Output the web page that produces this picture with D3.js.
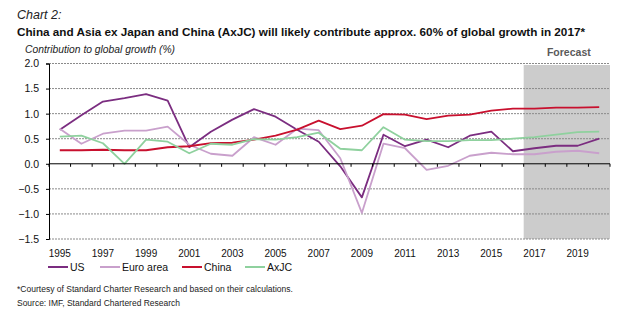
<!DOCTYPE html>
<html><head><meta charset="utf-8">
<script src="https://cdn.jsdelivr.net/npm/d3@7"></script>
<style>body{margin:0;background:#fff}svg{display:block}text{font-family:"Liberation Sans",Arial,sans-serif}</style>
</head><body><svg id="c" width="640" height="334"></svg>
<script>
const years = d3.range(1995, 2021).map(String);
const tickYears = ["1995","1997","1999","2001","2003","2005","2007","2009","2011","2013","2015","2017","2019"];
const yTicks = [2.0, 1.5, 1.0, 0.5, 0.0, -0.5, -1.0, -1.5];
const forecastYears = ["2017","2018","2019","2020"];
const us =   [0.68,0.97,1.24,1.31,1.39,1.26,0.33,0.64,0.88,1.09,0.94,0.68,0.44,-0.05,-0.67,0.58,0.35,0.48,0.33,0.56,0.64,0.25,0.31,0.36,0.36,0.50];
const euro = [0.70,0.40,0.60,0.66,0.66,0.74,0.38,0.20,0.16,0.53,0.38,0.70,0.67,0.11,-0.98,0.40,0.31,-0.12,-0.04,0.16,0.22,0.19,0.19,0.24,0.26,0.21];
const china =[0.27,0.27,0.28,0.27,0.27,0.33,0.35,0.41,0.42,0.48,0.56,0.68,0.86,0.69,0.76,0.99,0.98,0.89,0.96,0.98,1.06,1.10,1.10,1.12,1.12,1.13];
const axjc = [0.54,0.56,0.41,0.00,0.48,0.44,0.21,0.40,0.38,0.49,0.48,0.53,0.62,0.30,0.27,0.73,0.48,0.45,0.45,0.47,0.47,0.50,0.53,0.58,0.63,0.64];
const seriesNames = ["US","Euro area","China","AxJC"];
const seriesColors = ["#7b2d80","#c9a0cc","#c8102e","#8fd19e"];
const seriesValues = [us, euro, china, axjc];

const svg = d3.select("#c");
const x = d3.scaleBand().domain(years).range([49, 610]);
const y = d3.scaleLinear().domain([-1.5, 2.0]).range([239, 63.5]);

// titles
svg.append("text").attr("x",17).attr("y",19).attr("font-size",12.5).attr("font-style","italic").attr("fill","#222").text("Chart 2:");
svg.append("text").attr("x",17).attr("y",36).attr("font-size",11).attr("font-weight","bold").attr("fill","#111")
  .attr("textLength",568).attr("lengthAdjust","spacingAndGlyphs")
  .text("China and Asia ex Japan and China (AxJC) will likely contribute approx. 60% of global growth in 2017*");
svg.append("text").attr("x",25).attr("y",53).attr("font-size",10).attr("font-style","italic").attr("fill","#222")
  .attr("textLength",150).attr("lengthAdjust","spacingAndGlyphs").text("Contribution to global growth (%)");

// forecast shade
const fx0 = x(forecastYears[0]), fx1 = x(forecastYears[forecastYears.length-1]) + x.bandwidth();
svg.append("rect").attr("x",fx0).attr("y",65).attr("width",fx1-fx0).attr("height",y(-1.5)-65).attr("fill","#cccccc");
svg.append("text").attr("x",(fx0+fx1)/2+2).attr("y",56).attr("text-anchor","middle").attr("font-size",10.5)
  .attr("font-weight","bold").attr("fill","#5a5a5a").text("Forecast");

// gridlines
svg.append("g").selectAll("line").data(yTicks.filter(d=>d!==0)).join("line")
  .attr("x1",49).attr("x2",610).attr("y1",d=>y(d)).attr("y2",d=>y(d))
  .attr("stroke","#8a8a8a").attr("stroke-width",1).attr("stroke-dasharray","2,1");

// y axis
const yAxis = d3.axisLeft(y).tickValues(yTicks).tickSize(3).tickFormat(d3.format(".1f"));
const gy = svg.append("g").attr("transform","translate(49,0)").call(yAxis);
gy.select(".domain").attr("stroke","#000");
gy.selectAll(".tick line").attr("stroke","#000");
gy.selectAll(".tick text").attr("font-size",10.5).attr("fill","#111").attr("x",-10)
  .attr("font-family","'Liberation Sans',Arial,sans-serif");

// lines
const line = d3.line().x((d,i)=>x(years[i])+x.bandwidth()/2).y(d=>y(d));
seriesValues.forEach((vals,k)=>{
  svg.append("path").datum(vals).attr("d",line).attr("fill","none")
    .attr("stroke",seriesColors[k]).attr("stroke-width",1.8).attr("stroke-linejoin","round");
});

// x axis on zero
const boundaries = years.map(yr=>x(yr)).concat([x(years[years.length-1])+x.bandwidth()]);
const gx = svg.append("g");
gx.append("line").attr("x1",49).attr("x2",610).attr("y1",y(0)).attr("y2",y(0)).attr("stroke","#000").attr("stroke-width",1);
gx.selectAll("line.t").data(boundaries).join("line").attr("class","t")
  .attr("x1",d=>d).attr("x2",d=>d).attr("y1",y(0)).attr("y2",y(0)+3).attr("stroke","#000");
svg.append("g").selectAll("text").data(tickYears).join("text")
  .attr("x",d=>x(d)+x.bandwidth()/2).attr("y",257).attr("text-anchor","middle")
  .attr("font-size",10).attr("fill","#111").text(d=>d);

// legend
const legX = [48, 100, 182, 245];
const lg = svg.append("g").selectAll("g").data(seriesNames).join("g")
  .attr("transform",(d,i)=>`translate(${legX[i]},267)`);
lg.append("line").attr("x1",0).attr("x2",20).attr("stroke",(d,i)=>seriesColors[i]).attr("stroke-width",2);
lg.append("text").attr("x",22).attr("y",4).attr("font-size",10.5).attr("fill","#111").text(d=>d);

// footnotes
svg.append("text").attr("x",17).attr("y",292).attr("font-size",8.5).attr("fill","#222")
  .attr("textLength",276).attr("lengthAdjust","spacingAndGlyphs")
  .text("*Courtesy of Standard Charter Research and based on their calculations.");
svg.append("text").attr("x",17).attr("y",306).attr("font-size",8.5).attr("fill","#222")
  .attr("textLength",163).attr("lengthAdjust","spacingAndGlyphs")
  .text("Source: IMF, Standard Chartered Research");
</script></body></html>
